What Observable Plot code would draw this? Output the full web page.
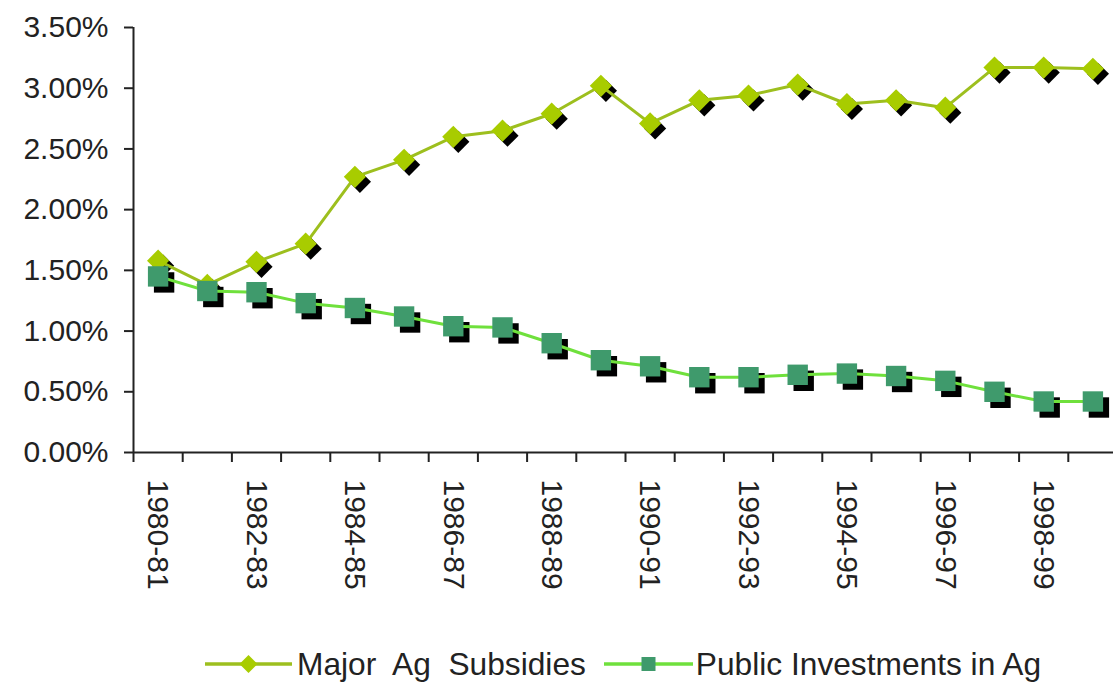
<!DOCTYPE html>
<html>
<head>
<meta charset="utf-8">
<script src="https://cdn.jsdelivr.net/npm/d3@7"></script>
<script src="https://cdn.jsdelivr.net/npm/@observablehq/plot@0.6"></script>
<style>
  html, body { margin: 0; padding: 0; background: #fff; }
  body { width: 1113px; height: 683px; overflow: hidden; font-family: "Liberation Sans", Arial, sans-serif; color: #222; }
  #legend { display: flex; align-items: center; height: 38px; padding-left: 205px; font-size: 31.7px; white-space: pre; }
  #legend svg { display: block; }
</style>
</head>
<body>
<div id="chart"></div>
<div id="legend"></div>
<script>
// ---- data (values in percent) ----
const years = ["1980-81","1981-82","1982-83","1983-84","1984-85","1985-86","1986-87","1987-88","1988-89","1989-90",
               "1990-91","1991-92","1992-93","1993-94","1994-95","1995-96","1996-97","1997-98","1998-99","1999-00"];
const subsidies   = [1.58,1.38,1.57,1.72,2.27,2.41,2.60,2.65,2.79,3.02,2.71,2.90,2.94,3.03,2.87,2.90,2.84,3.17,3.17,3.16];
const investments = [1.45,1.33,1.32,1.23,1.19,1.12,1.04,1.03,0.90,0.76,0.71,0.62,0.62,0.64,0.65,0.63,0.59,0.50,0.42,0.42];
const yTicks = [0, 0.5, 1, 1.5, 2, 2.5, 3, 3.5];
const seriesNames = ["Major  Ag  Subsidies", "Public Investments in Ag"];
const labelEvery = 2;

const subColLine = "#9dbf1e", subColFill = "#a8cc00";
const invColLine = "#6fe03c", invColFill = "#3f9a6c";

const rows = years.map((year, k) => ({pos: k + 0.5, year, sub: subsidies[k], inv: investments[k]}));
const boundaries = d3.range(years.length + 1);
const labelPos = years.map((y, k) => k + 0.5).filter((p, k) => k % labelEvery === 0);

const chart = Plot.plot({
  width: 1113,
  height: 645,
  marginTop: 27, marginBottom: 193, marginLeft: 133, marginRight: 0,
  style: {fontFamily: "'Liberation Sans', Arial, sans-serif", fontSize: "30px", color: "#222", background: "#fff"},
  x: {type: "linear", domain: [0, years.length], range: [133, 1117]},
  y: {domain: [0, 3.5], range: [452, 27]},
  marks: [
    Plot.ruleX([0], {y1: 0, y2: 3.5, stroke: "#222", strokeWidth: 2}),
    Plot.ruleY([0], {x1: 0, x2: years.length, stroke: "#222", strokeWidth: 2}),
    Plot.axisY(yTicks, {tickSize: 9, tickPadding: 16, strokeWidth: 2, tickFormat: d => d.toFixed(2) + "%", label: null}),
    Plot.axisX(boundaries, {tickSize: 10, strokeWidth: 2, tickFormat: () => "", label: null}),
    Plot.axisX(labelPos, {tickSize: 0, tickPadding: 27, tickRotate: 90, tickFormat: p => years[Math.floor(p)], label: null}),
    // Major Ag Subsidies
    Plot.dot(rows, {x: "pos", y: "sub", symbol: "diamond2", r: 10, fill: "#000", dx: 5, dy: 5}),
    Plot.line(rows, {x: "pos", y: "sub", stroke: subColLine, strokeWidth: 3}),
    Plot.dot(rows, {x: "pos", y: "sub", symbol: "diamond2", r: 10, fill: subColFill}),
    // Public Investments in Ag
    Plot.dot(rows, {x: "pos", y: "inv", symbol: "square", r: 11.5, fill: "#000", dx: 6, dy: 6}),
    Plot.line(rows, {x: "pos", y: "inv", stroke: invColLine, strokeWidth: 3}),
    Plot.dot(rows, {x: "pos", y: "inv", symbol: "square", r: 11.5, fill: invColFill})
  ]
});
document.getElementById("chart").append(chart);

// ---- legend ----
const legend = document.getElementById("legend");
function swatch(w, lineCol, fillCol, kind) {
  const ns = "http://www.w3.org/2000/svg";
  const s = document.createElementNS(ns, "svg");
  s.setAttribute("width", w); s.setAttribute("height", 30);
  const l = document.createElementNS(ns, "line");
  l.setAttribute("x1", 0); l.setAttribute("x2", w); l.setAttribute("y1", 15); l.setAttribute("y2", 15);
  l.setAttribute("stroke", lineCol); l.setAttribute("stroke-width", 3.5);
  s.append(l);
  const c = w / 2;
  if (kind === "diamond") {
    const p = document.createElementNS(ns, "path");
    p.setAttribute("d", `M${c},${15-9}L${c+9},15L${c},${15+9}L${c-9},15Z`);
    p.setAttribute("fill", fillCol);
    s.append(p);
  } else {
    const r = document.createElementNS(ns, "rect");
    r.setAttribute("x", c - 7); r.setAttribute("y", 8); r.setAttribute("width", 14); r.setAttribute("height", 14);
    r.setAttribute("fill", fillCol);
    s.append(r);
  }
  return s;
}
const item1 = swatch(87, subColLine, subColFill, "diamond");
const t1 = document.createElement("span"); t1.textContent = seriesNames[0]; t1.style.marginLeft = "5px";
const item2 = swatch(89, invColLine, invColFill, "square"); item2.style.marginLeft = "18px";
const t2 = document.createElement("span"); t2.textContent = seriesNames[1]; t2.style.marginLeft = "3px";
legend.append(item1, t1, item2, t2);
</script>
</body>
</html>
